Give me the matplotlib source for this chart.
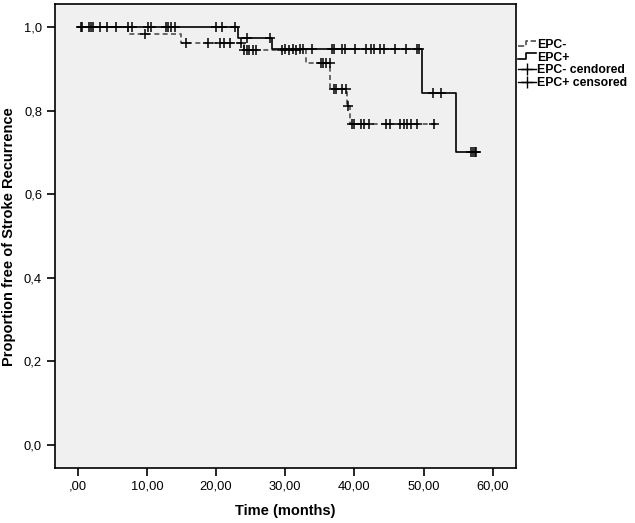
import numpy as np
import matplotlib
matplotlib.use("Agg")
import matplotlib.pyplot as plt
from matplotlib.lines import Line2D
from matplotlib.legend_handler import HandlerBase

plt.rcParams['font.family'] = ['Liberation Sans', 'DejaVu Sans']

# Kaplan-Meier steps (time in months, proportion free)
epc_neg_times = [0, 7.3, 14.9, 24.0, 33.0, 36.5, 38.9, 39.4, 52.0]
epc_neg_surv = [1.0, 0.983, 0.963, 0.945, 0.913, 0.852, 0.812, 0.768, 0.768]
epc_pos_times = [0, 23.2, 28.1, 49.7, 54.7, 57.8]
epc_pos_surv = [1.0, 0.975, 0.948, 0.843, 0.702, 0.702]

# censoring times
epc_neg_cens = [0.6, 1.9, 3.2, 9.7, 15.6, 18.9, 20.5, 21.2, 22.0, 23.6,
                24.1, 24.5, 24.8, 25.3, 25.8, 29.5, 30.5, 31.5,
                35.2, 35.5, 35.9, 36.4, 37.0, 37.4, 38.2, 38.8, 39.1,
                39.6, 40.0, 40.9, 41.4, 42.1, 44.6, 45.1, 46.6, 47.1,
                47.6, 48.2, 49.1, 51.5]
epc_pos_cens = [0.4, 1.6, 2.2, 4.2, 5.5, 7.2, 7.8, 10.1, 10.6, 12.7, 13.0,
                13.5, 14.1, 20.0, 20.8, 22.7, 24.5, 27.8, 29.9, 31.1, 32.2,
                32.6, 33.9, 36.7, 37.1, 38.2, 38.6, 40.1, 41.7, 42.4, 42.9,
                43.7, 44.3, 45.9, 47.5, 49.0, 49.4, 51.4, 52.5, 56.9, 57.2,
                57.4, 57.6]

x_ticks = [0, 10, 20, 30, 40, 50, 60]
x_labels = [',00', '10,00', '20,00', '30,00', '40,00', '50,00', '60,00']
y_ticks = [0, 0.2, 0.4, 0.6, 0.8, 1.0]
y_labels = ['0,0', '0,2', '0,4', '0,6', '0,8', '1,0']


def surv_at(times, surv, t):
    idx = np.searchsorted(times, t, side='right') - 1
    return np.asarray(surv)[idx]


class StepHandler(HandlerBase):
    """Draws a small step in the legend, like SPSS does."""
    def create_artists(self, legend, orig_handle, xdescent, ydescent,
                       width, height, fontsize, trans):
        x0 = -xdescent
        y0 = -ydescent
        xs = [x0, x0 + 0.45 * width, x0 + 0.45 * width, x0 + width]
        ys = [y0 + 0.25 * height, y0 + 0.25 * height, y0 + 0.9 * height,
              y0 + 0.9 * height]
        line = Line2D(xs, ys, color=orig_handle.get_color(),
                      linewidth=orig_handle.get_linewidth(),
                      linestyle=orig_handle.get_linestyle(),
                      transform=trans)
        return [line]


fig = plt.figure(figsize=(6.35, 5.23), dpi=100)
ax = fig.add_axes([0.086, 0.105, 0.727, 0.887])
ax.set_facecolor('#f0f0f0')

neg_line, = ax.step(epc_neg_times, epc_neg_surv, where='post', color='#505050',
                    lw=1.2, ls=(0, (3, 2)))
pos_line, = ax.step(epc_pos_times, epc_pos_surv, where='post', color='black',
                    lw=1.2)

ax.plot(epc_neg_cens, surv_at(epc_neg_times, epc_neg_surv, epc_neg_cens),
        ls='none', marker='+', ms=6.5, mew=1.1, color='black')
ax.plot(epc_pos_cens, surv_at(epc_pos_times, epc_pos_surv, epc_pos_cens),
        ls='none', marker='+', ms=6.5, mew=1.1, color='black')

ax.set_xlim(-3.35, 63.4)
ax.set_ylim(-0.056, 1.055)
ax.set_xticks(x_ticks)
ax.set_xticklabels(x_labels)
ax.set_yticks(y_ticks)
ax.set_yticklabels(y_labels)
ax.tick_params(direction='out', length=6, width=1.2, labelsize=9.3, pad=3,
               colors='black')
for s in ax.spines.values():
    s.set_linewidth(1.2)

ax.set_xlabel('Time (months)', fontsize=10.5, fontweight='bold', labelpad=8)
ax.set_ylabel('Proportion free of Stroke Recurrence', fontsize=10.5,
              fontweight='bold', labelpad=6)

cens_neg = Line2D([], [], color='black', lw=1.0, marker='+', ms=8, mew=1.0)
cens_pos = Line2D([], [], color='black', lw=1.0, marker='+', ms=8, mew=1.0)
fig.legend([neg_line, pos_line, cens_neg, cens_pos],
           ['EPC-', 'EPC+', 'EPC- cendored', 'EPC+ censored'],
           handler_map={neg_line: StepHandler(), pos_line: StepHandler()},
           loc='upper left', bbox_to_anchor=(0.815, 0.925), frameon=False,
           handlelength=1.5, handletextpad=0.1, labelspacing=0.05,
           borderpad=0, borderaxespad=0, numpoints=1,
           prop={'size': 8.8, 'weight': 'bold'})

fig.savefig('out.png', dpi=100)
